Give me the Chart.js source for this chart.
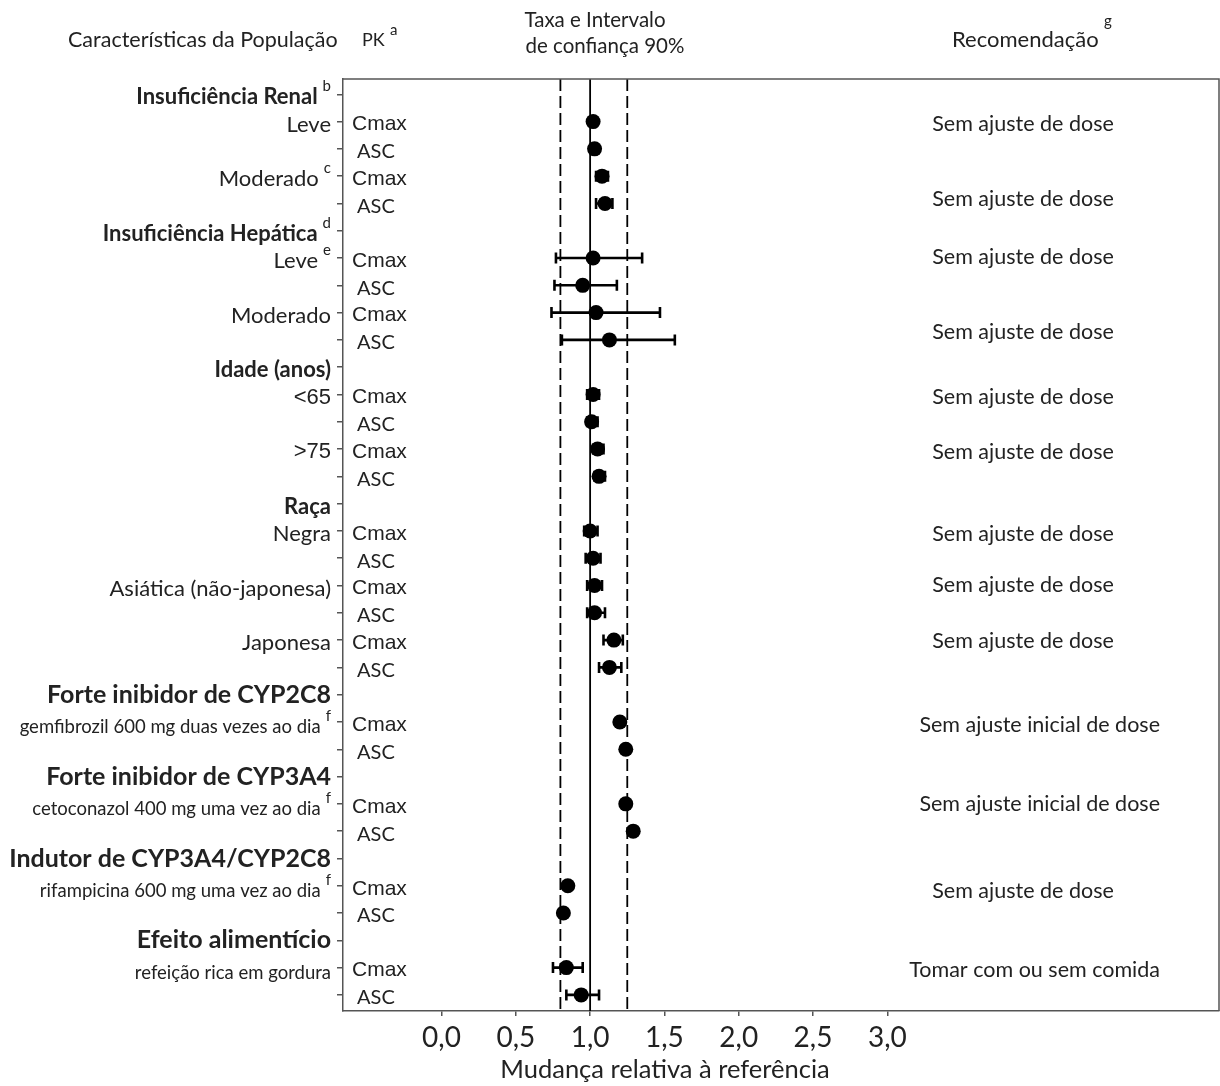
<!DOCTYPE html>
<html>
<head>
<meta charset="utf-8">
<script src="https://cdn.jsdelivr.net/npm/chart.js@4.4.1/dist/chart.umd.min.js"></script>
<style>
  html, body { margin: 0; padding: 0; background: #fff; overflow: hidden; }
  canvas { display: block; }
</style>
</head>
<body>
<canvas id="forestChart" width="1220" height="1086"></canvas>
<script>
// Filas del gráfico (de arriba a abajo)
const rowLabels = [
  'Insuficiência Renal', 'Leve', '', 'Moderado', '',
  'Insuficiência Hepática', 'Leve', '', 'Moderado', '',
  'Idade (anos)', '<65', '', '>75', '',
  'Raça', 'Negra', '', 'Asiática (não-japonesa)', '', 'Japonesa', '',
  'Forte inibidor de CYP2C8', 'gemfibrozil 600 mg duas vezes ao dia', '',
  'Forte inibidor de CYP3A4', 'cetoconazol 400 mg uma vez ao dia', '',
  'Indutor de CYP3A4/CYP2C8', 'rifampicina 600 mg uma vez ao dia', '',
  'Efeito alimentício', 'refeição rica em gordura', ''
];
// h = cabecera, H = cabecera grande, n = normal, a = arial, s = pequeño
const rowKinds = [
  'h', 'n', '', 'n', '',
  'h', 'n', '', 'n', '',
  'h', 'a', '', 'a', '',
  'h', 'n', '', 'n', '', 'n', '',
  'H', 's', '',
  'H', 's', '',
  'H', 's', '',
  'H', 's', ''
];
const rowNotes = {0: 'b', 3: 'c', 5: 'd', 6: 'e', 23: 'f', 26: 'f', 29: 'f'};
const pkLabels = [
  '', 'Cmax', 'ASC', 'Cmax', 'ASC',
  '', 'Cmax', 'ASC', 'Cmax', 'ASC',
  '', 'Cmax', 'ASC', 'Cmax', 'ASC',
  '', 'Cmax', 'ASC', 'Cmax', 'ASC', 'Cmax', 'ASC',
  '', 'Cmax', 'ASC',
  '', 'Cmax', 'ASC',
  '', 'Cmax', 'ASC',
  '', 'Cmax', 'ASC'
];
const ratios = [
  null, 1.02, 1.03, 1.08, 1.10,
  null, 1.02, 0.95, 1.04, 1.13,
  null, 1.02, 1.01, 1.05, 1.06,
  null, 1.00, 1.02, 1.03, 1.03, 1.16, 1.13,
  null, 1.20, 1.24,
  null, 1.24, 1.29,
  null, 0.85, 0.82,
  null, 0.84, 0.94
];
const ciLow = [
  null, 1.00, 1.01, 1.04, 1.04,
  null, 0.77, 0.76, 0.74, 0.81,
  null, 0.98, 0.98, 1.02, 1.03,
  null, 0.96, 0.97, 0.98, 0.98, 1.09, 1.06,
  null, null, null,
  null, null, null,
  null, null, null,
  null, 0.75, 0.84
];
const ciHigh = [
  null, 1.04, 1.05, 1.12, 1.15,
  null, 1.35, 1.18, 1.47, 1.57,
  null, 1.06, 1.05, 1.09, 1.10,
  null, 1.05, 1.07, 1.08, 1.10, 1.22, 1.21,
  null, null, null,
  null, null, null,
  null, null, null,
  null, 0.95, 1.06
];
const recRows = [1.1, 3.85, 5.95, 8.7, 11.1, 13.1, 16.1, 18, 20.05, 23.1, 26, 29.2, 32.1];
const recTexts = [
  'Sem ajuste de dose', 'Sem ajuste de dose', 'Sem ajuste de dose', 'Sem ajuste de dose',
  'Sem ajuste de dose', 'Sem ajuste de dose', 'Sem ajuste de dose', 'Sem ajuste de dose',
  'Sem ajuste de dose', 'Sem ajuste inicial de dose', 'Sem ajuste inicial de dose',
  'Sem ajuste de dose', 'Tomar com ou sem comida'
];
const xTicks = [0, 0.5, 1, 1.5, 2, 2.5, 3];
const refLine = 1;
const boundLines = [0.8, 1.25];

const fontCal = 'Lato, "Open Sans", sans-serif';
const fontArial = '"Liberation Sans", Arial, sans-serif';
const yMin = -0.56, yMax = 33.59;

const kindStyle = {
  h: {font: 'bold 22px ' + fontCal, dy: 3},
  H: {font: 'bold 25px ' + fontCal, dy: 0},
  n: {font: '22px ' + fontCal, dy: 3},
  a: {font: '22px ' + fontArial, dy: 3},
  s: {font: '18.5px ' + fontCal, dy: 5}
};

const points = [];
ratios.forEach((r, i) => { if (r != null) points.push({x: r, y: i}); });

const vline = (v) => [{x: v, y: yMin}, {x: v, y: yMax}];

const forestPlugin = {
  id: 'forest',
  beforeDatasetsDraw(chart) {
    const {ctx, scales: {x, y}} = chart;
    // barras de intervalo de confianza
    ctx.save();
    ctx.strokeStyle = '#000';
    ctx.lineWidth = 2.6;
    ratios.forEach((r, i) => {
      if (ciLow[i] == null) return;
      const py = y.getPixelForValue(i);
      const x1 = x.getPixelForValue(ciLow[i]);
      const x2 = x.getPixelForValue(ciHigh[i]);
      ctx.beginPath();
      ctx.moveTo(x1, py); ctx.lineTo(x2, py);
      ctx.moveTo(x1, py - 5.5); ctx.lineTo(x1, py + 5.5);
      ctx.moveTo(x2, py - 5.5); ctx.lineTo(x2, py + 5.5);
      ctx.stroke();
    });
    ctx.restore();
  },
  afterDraw(chart) {
    const {ctx, chartArea: a, scales: {y}} = chart;
    ctx.save();
    // borde superior y derecho
    ctx.strokeStyle = '#555';
    ctx.lineWidth = 1.5;
    ctx.beginPath();
    ctx.moveTo(a.left, a.top); ctx.lineTo(a.right, a.top); ctx.lineTo(a.right, a.bottom);
    ctx.stroke();

    ctx.fillStyle = '#222';
    ctx.textBaseline = 'middle';

    // cabeceras
    ctx.textAlign = 'left';
    ctx.font = '21.5px ' + fontCal;
    ctx.fillText('Características da População', 68, 40);
    ctx.font = '18px ' + fontCal;
    ctx.fillText('PK', 362, 40);
    ctx.font = '22px ' + fontCal;
    ctx.fillText('Recomendação', 952, 40);
    ctx.textAlign = 'center';
    ctx.font = '20.5px ' + fontCal;
    ctx.fillText('Taxa e Intervalo', 595, 20);
    ctx.fillText('de confiança 90%', 605, 46);
    ctx.font = '15px ' + fontCal;
    ctx.textAlign = 'left';
    ctx.fillText('a', 390, 30);
    ctx.fillText('g', 1104, 21);

    // etiquetas de la población
    rowLabels.forEach((lab, i) => {
      if (!lab) return;
      const st = kindStyle[rowKinds[i]];
      const py = y.getPixelForValue(i) + st.dy;
      let right = 331;
      const note = rowNotes[i];
      if (note) {
        ctx.font = '15px ' + fontCal;
        ctx.textAlign = 'right';
        ctx.fillText(note, right, py - 11);
        right -= ctx.measureText(note).width + 5;
      }
      ctx.font = st.font;
      ctx.textAlign = 'right';
      ctx.fillText(lab, right, py);
    });

    // columna PK
    ctx.textAlign = 'left';
    pkLabels.forEach((pk, i) => {
      if (!pk) return;
      const py = y.getPixelForValue(i) + 3;
      if (pk === 'Cmax') {
        ctx.font = '21px ' + fontArial;
        ctx.fillText(pk, 352, py);
      } else {
        ctx.font = '20px ' + fontCal;
        ctx.fillText(pk, 357, py);
      }
    });

    // recomendaciones
    ctx.font = '21.5px ' + fontCal;
    recTexts.forEach((t, k) => {
      const py = y.getPixelForValue(recRows[k]);
      if (ctx.measureText(t).width > 200) {
        ctx.textAlign = 'right';
        ctx.fillText(t, 1160, py);
      } else {
        ctx.textAlign = 'center';
        ctx.fillText(t, 1023, py);
      }
    });

    // título del eje x
    ctx.textAlign = 'center';
    ctx.font = '25.5px ' + fontCal;
    ctx.fillText('Mudança relativa à referência', 665, 1070);
    ctx.restore();
  }
};

const ctx = document.getElementById('forestChart').getContext('2d');
const chart = new Chart(ctx, {
  type: 'scatter',
  data: {
    datasets: [
      {
        label: 'Taxa',
        data: points,
        backgroundColor: '#000',
        borderColor: '#000',
        borderWidth: 0,
        pointRadius: 7.5,
        order: 0
      },
      {
        label: 'ref',
        type: 'line',
        data: vline(refLine),
        borderColor: '#000',
        borderWidth: 1.8,
        pointRadius: 0,
        order: 2
      },
      {
        label: 'lim1',
        type: 'line',
        data: vline(boundLines[0]),
        borderColor: '#000',
        borderWidth: 1.8,
        borderDash: [12, 5],
        pointRadius: 0,
        order: 2
      },
      {
        label: 'lim2',
        type: 'line',
        data: vline(boundLines[1]),
        borderColor: '#000',
        borderWidth: 1.8,
        borderDash: [12, 5],
        pointRadius: 0,
        order: 2
      }
    ]
  },
  options: {
    responsive: false,
    animation: false,
    layout: {
      autoPadding: false,
      padding: {left: 0, top: 79, right: 1, bottom: 0}
    },
    plugins: {
      legend: { display: false },
      tooltip: { enabled: false },
      title: { display: false }
    },
    scales: {
      x: {
        type: 'linear',
        min: -0.663,
        max: 5.232,
        afterBuildTicks: (s) => { s.ticks = xTicks.map(v => ({value: v})); },
        afterFit: (s) => { s.height = 75; },
        ticks: {
          autoSkip: false,
          maxRotation: 0,
          padding: 5,
          color: '#222',
          font: { family: fontCal, size: 28 },
          callback: (v) => v.toFixed(1).replace('.', ',')
        },
        grid: {
          drawOnChartArea: false,
          tickLength: 5,
          color: '#555',
          lineWidth: 1.5
        },
        border: { color: '#555', width: 1.5 }
      },
      y: {
        type: 'linear',
        reverse: true,
        min: yMin,
        max: yMax,
        afterBuildTicks: (s) => { s.ticks = rowLabels.map((_, i) => ({value: i})); },
        afterFit: (s) => { s.width = 343; },
        ticks: { display: false },
        grid: {
          drawOnChartArea: false,
          tickLength: 6,
          color: '#555',
          lineWidth: 1.5
        },
        border: { color: '#555', width: 1.5 }
      }
    }
  },
  plugins: [forestPlugin]
});
</script>
</body>
</html>
